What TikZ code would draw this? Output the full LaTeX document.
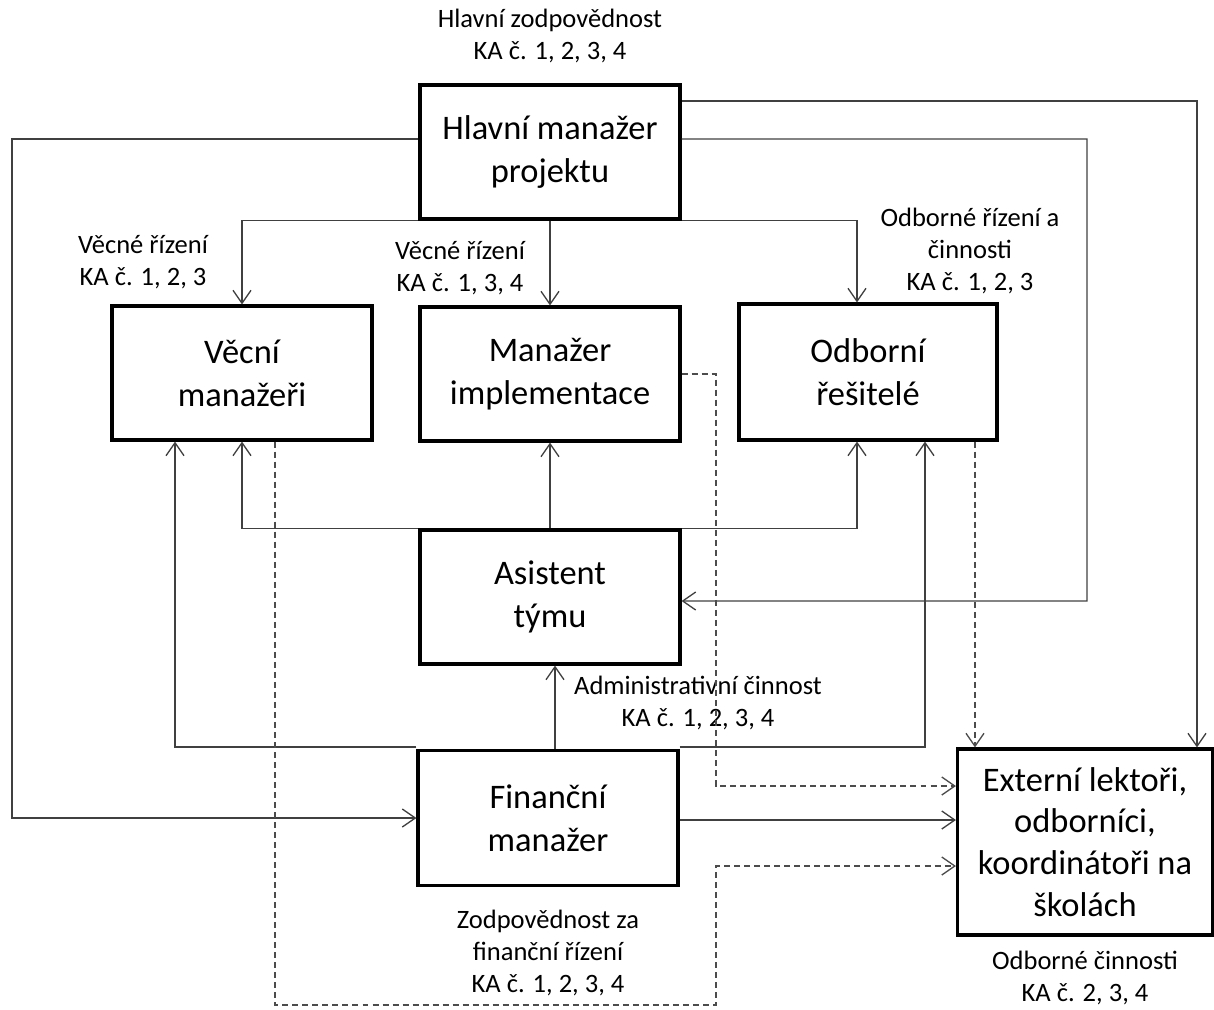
\documentclass[tikz,border=0pt]{standalone}
\usepackage{fontspec}
\setmainfont{Carlito}
\usepackage{tikz}
\usetikzlibrary{calc,arrows,arrows.meta}

\tikzset{
  box/.style={draw=black, line width=1.8pt, minimum width=5.2cm, minimum height=2.68cm,
    align=center, font=\fontsize{19.6}{24.6}\selectfont},
  lbl/.style={align=center, font=\fontsize{15.1}{18.1}\selectfont},
  arr/.style={->, draw=black!75, line width=0.75pt},
  darr/.style={->, draw=black!70, line width=0.75pt, dash pattern=on 3.4pt off 2.3pt}
}

\begin{document}
\begin{tikzpicture}[x=0.02cm, y=-0.02cm, >={Straight Barb[length=2.6mm,width=3.6mm]}]
      \useasboundingbox (0,0) rectangle (1214,1009);

      % boxes
      \node[box] (hlavni) at (550,152) {Hlavní manažer\\projektu};
      \node[box] (vecni) at (242,373) {Věcní\\manažeři};
      \node[box] (implem) at (550,374) {Manažer\\implementace};
      \node[box, minimum width=5.16cm, minimum height=2.72cm] (odborni) at (868,372) {Odborní\\řešitelé};
      \node[box] (asist) at (550,597) {Asistent\\týmu};
      \node[box, minimum height=2.7cm] (financ) at (548,818) {Finanční\\manažer};
      \node[box, minimum width=5.1cm, minimum height=3.72cm, font=\fontsize{19.6}{23.8}\selectfont] (extern) at (1085,842)
        {Externí lektoři,\\odborníci,\\koordinátoři na\\školách};

      % labels
      \node[lbl] (l_hlavni) at (550,36) {Hlavní zodpovědnost\\KA č. 1, 2, 3, 4};
      \node[lbl] (l_vecni) at (143,262) {Věcné řízení\\KA č. 1, 2, 3};
      \node[lbl] (l_implem) at (460,268) {Věcné řízení\\KA č. 1, 3, 4};
      \node[lbl] (l_odborni) at (970,251) {Odborné řízení a\\činnosti\\KA č. 1, 2, 3};
      \node[lbl] (l_asist) at (698,703) {Administrativní činnost\\KA č. 1, 2, 3, 4};
      \node[lbl] (l_financ) at (548,953) {Zodpovědnost za\\finanční řízení\\KA č. 1, 2, 3, 4};
      \node[lbl] (l_extern) at (1085,978) {Odborné činnosti\\KA č. 2, 3, 4};

      % helper points for the dashed lines
      \coordinate (d1) at (716,786);
      \coordinate (d2) at (716,866);

      % from the main manager
      \draw[arr] ([yshift=1.02cm]hlavni.east) -| ([xshift=2.24cm]extern.north);
      \draw[arr] ([yshift=.26cm]hlavni.east) -| (1087,601) -- ([yshift=-.08cm]asist.east);
      \draw[arr] ([yshift=.26cm]hlavni.west) -| (12,818) -- (financ.west);
      \draw[arr] (hlavni.south west) -| (vecni.north);
      \draw[arr] (hlavni.south) -- (implem.north);
      \draw[arr] (hlavni.south east) -| ([xshift=-.22cm]odborni.north);

      % from the assistant
      \draw[arr] (asist.north) -- (implem.south);
      \draw[arr] (asist.north west) -| (vecni.south);
      \draw[arr] (asist.north east) -| ([xshift=-.22cm]odborni.south);

      % from the financial manager
      \draw[arr] ([xshift=.14cm]financ.north) -- ([xshift=.14cm]financ.north |- asist.south);
      \draw[arr] ([yshift=.04cm]financ.north west) -| ([xshift=-1.34cm]vecni.south);
      \draw[arr] ([yshift=.04cm]financ.north east) -| ([xshift=1.14cm]odborni.south);
      \draw[arr] ([yshift=-.04cm]financ.east) -- ([yshift=-.04cm]financ.east -| extern.west);

      % dashed lines
      \draw[darr] (implem.east) -| (d1) -- (d1 -| extern.west);
      \draw[darr] ([xshift=2.14cm]odborni.south) -- ([xshift=2.14cm]odborni.south |- extern.north);
      \draw[darr] ([xshift=.66cm]vecni.south) |- (716,1005) -- (d2) -- (d2 -| extern.west);
\end{tikzpicture}
\end{document}
